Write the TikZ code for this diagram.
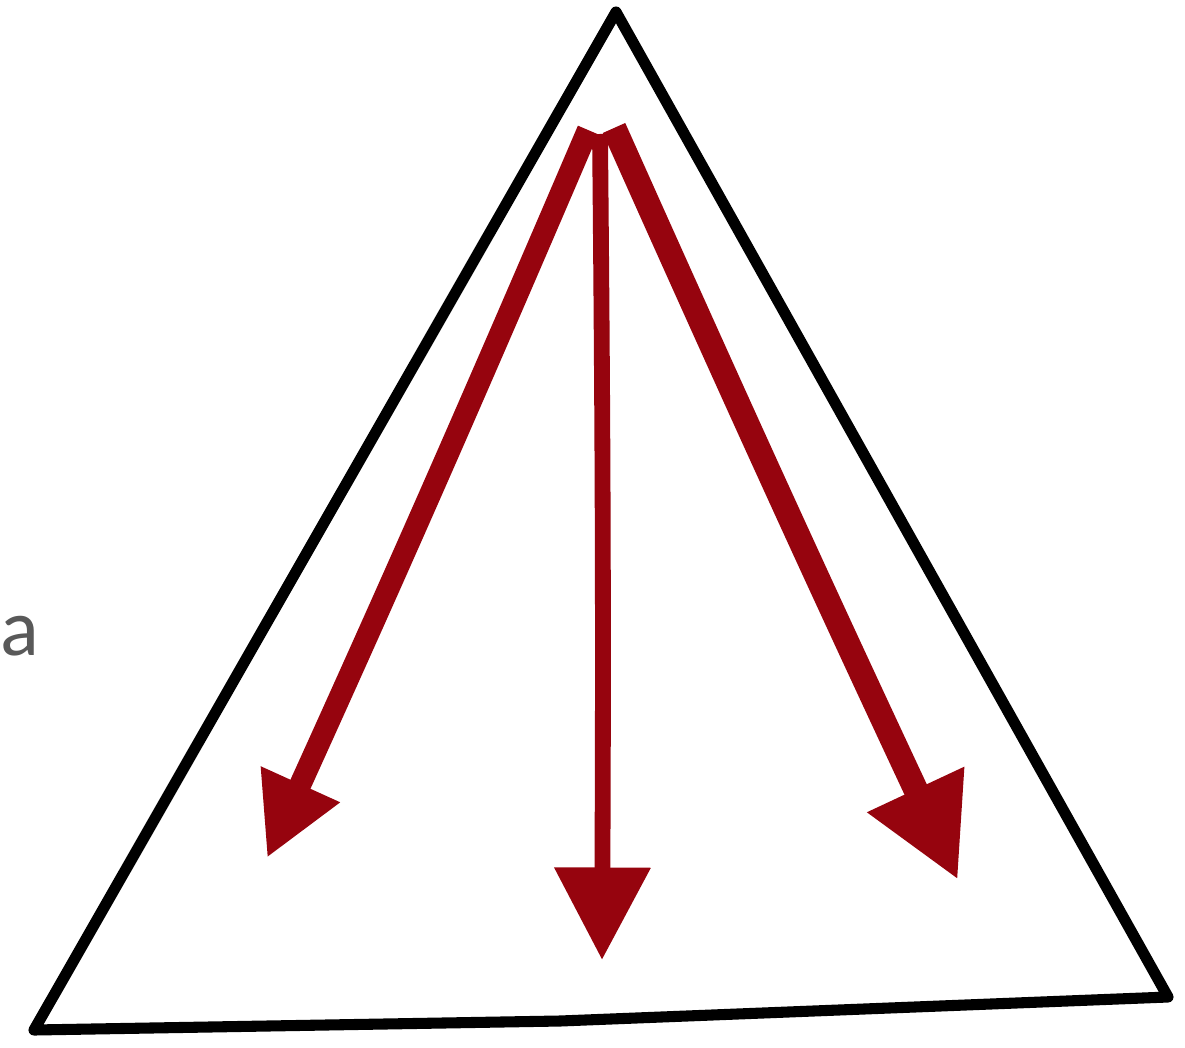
\documentclass[tikz,border=0pt]{standalone}
\usepackage{fontspec}
\setmainfont{Carlito}
\usetikzlibrary{arrows.meta}
\definecolor{arrowred}{RGB}{150,4,14}
\definecolor{labelgray}{RGB}{89,89,89}
\tikzset{
  edgeline/.style={draw=black, line width=6.3pt, line join=round},
  redarrow/.style={draw=arrowred, line cap=butt,
    -{Triangle[length=#1, width=#1]}},
}
\begin{document}
\begin{tikzpicture}[x=0.02cm, y=-0.02cm]
\useasboundingbox (0,0) rectangle (1185,1047);
% triangle corners
\coordinate (apex) at (616,12);
\coordinate (bl) at (34,1030);
\coordinate (br) at (1168,997);
\draw[edgeline] (apex) -- (bl) -- (560,1021) -- (br) -- cycle;
% arrow starts and tips
\coordinate (sl) at (588,130);
\coordinate (sm) at (600,134);
\coordinate (sr) at (614,128);
\coordinate (tl) at (267,858);
\coordinate (tm) at (602,960);
\coordinate (tr) at (958,880);
\draw[redarrow=1.62cm, line width=12.5pt] (sl) to[bend left=0.6] (tl);
\draw[redarrow=1.85cm, line width=9pt] (sm) to[bend left=0.4] (tm);
\draw[redarrow=2.0cm, line width=14pt] (sr) to[bend right=0.5] (tr);
% label
\node[font=\fontsize{46}{50}\selectfont, text=labelgray, anchor=base west, inner sep=0pt] (lbl) at (0,655) {a};
\end{tikzpicture}
\end{document}
